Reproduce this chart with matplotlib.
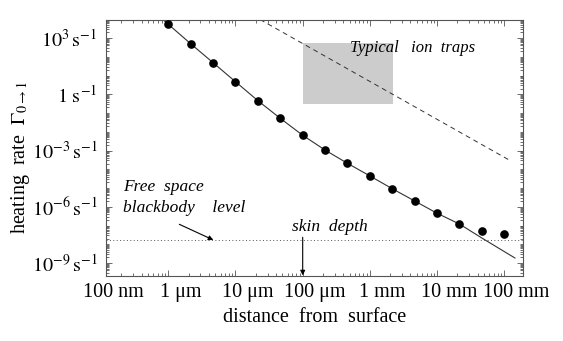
import numpy as np
import matplotlib
matplotlib.use("Agg")
import matplotlib.pyplot as plt
import matplotlib.transforms as mtrans
from matplotlib.ticker import LogLocator, NullFormatter

plt.rcParams['font.family'] = ['Liberation Serif', 'DejaVu Serif']
plt.rcParams['mathtext.fontset'] = 'stix'

# distances (m) of the computed points and their heating rates (1/s)
dist_pts = [1e-6, 2.15e-6, 4.64e-6, 1e-5, 2.15e-5, 4.64e-5, 1e-4, 2.15e-4,
            4.64e-4, 1e-3, 2.15e-3, 4.64e-3, 1e-2, 2.15e-2, 4.64e-2, 1e-1]
rate_pts = [5.4e3, 4.97e2, 48.2, 4.67, 0.457, 5.2e-2, 6.5e-3, 1.06e-3,
            2.07e-4, 4.4e-5, 9.2e-6, 2.03e-6, 4.5e-7, 1.2e-7, 5.1e-8, 3.5e-8]

# asymptotic curve (solid)
dist_curve = [8.3e-7, 1e-6, 2.15e-6, 4.64e-6, 1e-5, 2.15e-5, 4.64e-5, 1e-4,
              2.15e-4, 4.64e-4, 1e-3, 2.15e-3, 4.64e-3, 1e-2, 2.15e-2,
              4.64e-2, 0.144]
rate_curve = [9.7e3, 5.4e3, 4.97e2, 48.2, 4.67, 0.457, 5.2e-2, 6.5e-3,
              1.06e-3, 2.07e-4, 4.4e-5, 9.2e-6, 2.03e-6, 4.5e-7, 1.2e-7,
              2.15e-8, 1.85e-9]

# dashed line
dist_dash = [2.32e-5, 0.1186]
rate_dash = [9.7e3, 3.1e-4]

# typical ion traps box
trap_dist = [1e-4, 2.2e-3]
trap_rate = [0.29, 520]

blackbody = 1.69e-8
skin_depth = 1e-4

xtick_vals = [1e-7, 1e-6, 1e-5, 1e-4, 1e-3, 1e-2, 1e-1]
xtick_text = ["100 nm", "1 μm", "10 μm", "100 μm", "1 mm", "10 mm", "100 mm"]
ytick_vals = [1e3, 1, 1e-3, 1e-6, 1e-9]
ytick_text = [r"$10^3\,\mathrm{s}^{-1}$", r"$1\ \mathrm{s}^{-1}$",
              r"$10^{-3}\,\mathrm{s}^{-1}$", r"$10^{-6}\,\mathrm{s}^{-1}$",
              r"$10^{-9}\,\mathrm{s}^{-1}$"]

fig = plt.figure(figsize=(5.63, 3.41), dpi=100)
ax = fig.add_axes([0.1883, 0.1915, 0.7401, 0.7513])
ax.set_xscale('log')
ax.set_yscale('log')
ax.set_xlim(10**-6.927, 10**-0.726)
ax.set_ylim(10**-9.677, 10**3.987)

ax.fill_between(trap_dist, trap_rate[0], trap_rate[1], color='#cccccc', lw=0, zorder=1)
ax.plot(dist_curve, rate_curve, color='#333333', lw=0.8, zorder=2)
ax.plot(dist_dash, rate_dash, color='#333333', lw=0.7, ls=(0, (5, 4)), zorder=2)
ax.plot(dist_pts, rate_pts, 'o', color='black', ms=5.2, zorder=3)
ax.axhline(blackbody, color='#555555', lw=0.7, ls=(0, (1, 2.5)), zorder=2)

it = dict(style='italic', fontsize=12.5)
ax.text(10**-3.30, 10**2.45, "Typical   ion  traps", ha='left', va='center', zorder=4,
        style='italic', fontsize=12)
ax.text(10**-6.679, 10**-4.963, "Free  space", ha='left', va='center', **it)
ax.text(10**-6.679, 10**-6.083, "blackbody    level", ha='left', va='center', **it)
ax.text(10**-4.164, 10**-7.096, "skin  depth", ha='left', va='center', **it)
ax.annotate("", xy=(10**-5.33, blackbody), xytext=(10**-5.836, 10**-6.936),
            arrowprops=dict(arrowstyle='-|>', color='black', lw=0.8,
                            mutation_scale=7, shrinkA=0, shrinkB=0))
ax.annotate("", xy=(skin_depth, 10**-9.66), xytext=(skin_depth, 10**-7.63),
            arrowprops=dict(arrowstyle='-|>', color='black', lw=0.8,
                            mutation_scale=7, shrinkA=0, shrinkB=0))

# ticks
ax.set_xticks(xtick_vals[1:])
ax.set_xticklabels([])
ax.xaxis.set_minor_locator(LogLocator(base=10, subs=np.arange(2, 10), numticks=100))
ax.xaxis.set_minor_formatter(NullFormatter())
ax.set_yticks(ytick_vals)
ax.set_yticklabels(ytick_text, fontsize=14.5)
ax.yaxis.set_minor_locator(LogLocator(base=10, subs=np.arange(1, 10), numticks=100))
ax.yaxis.set_minor_formatter(NullFormatter())
ax.tick_params(which='both', direction='in', top=True, right=True, color='#555555', width=0.6)
ax.tick_params(which='major', length=4, pad=6)
ax.tick_params(which='minor', length=2)
for s in ax.spines.values():
    s.set_color('#555555')
    s.set_linewidth(0.8)

# x labels sit slightly right of their decade
shift = mtrans.ScaledTranslation(12 / 100, 0, fig.dpi_scale_trans)
trans = mtrans.blended_transform_factory(ax.transData, ax.transAxes) + shift
for v, t in zip(xtick_vals, xtick_text):
    ax.text(v, -0.03, t, transform=trans, ha='center', va='top', fontsize=14.5, clip_on=False)

ax.text(0.5, -0.125, "distance  from  surface", transform=ax.transAxes,
        ha='center', va='top', fontsize=14.5)
fig.text(0.036, 0.54, r"heating  rate  $\Gamma_{0\to1}$", rotation=90,
         ha='center', va='center', fontsize=14.5)

plt.savefig("out.png", dpi=100)
